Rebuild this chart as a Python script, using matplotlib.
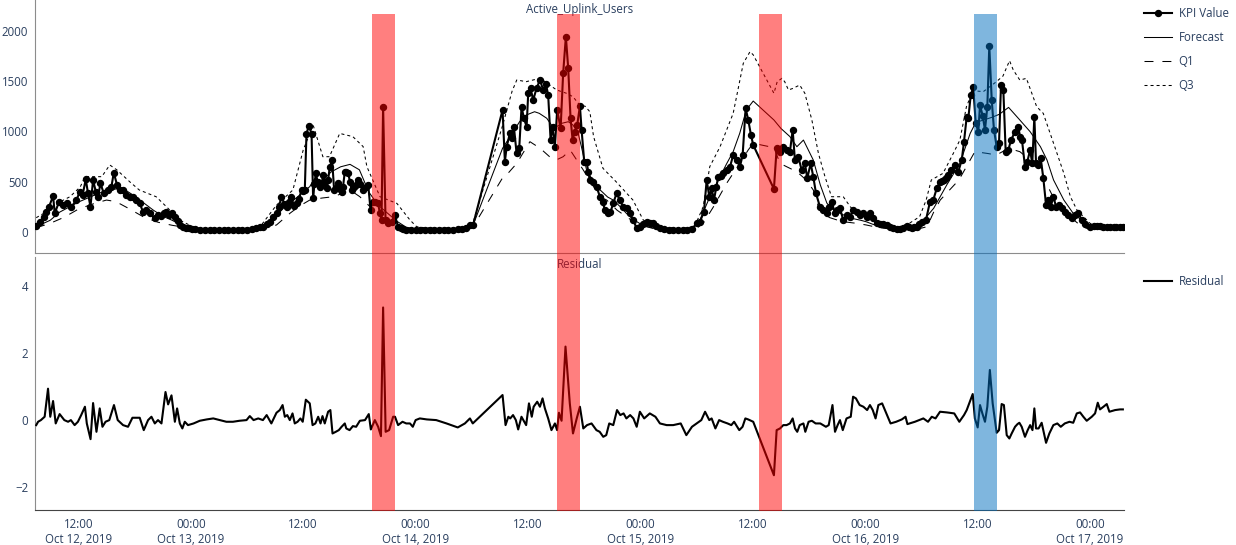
import numpy as np
import pandas as pd
import matplotlib
matplotlib.use("Agg")
import matplotlib.pyplot as plt
import matplotlib.dates as mdates
from matplotlib.patches import Rectangle
from matplotlib.transforms import blended_transform_factory

plt.rcParams["font.family"] = ["Open Sans", "DejaVu Sans"]

T0 = pd.Timestamp("2019-10-12 00:00")

# hours since 2019-10-12 00:00
kpi_t = [7.5, 7.87, 8.3, 8.59, 8.87, 9.30, 9.48, 9.94, 10.36, 10.79, 11.26, 11.8, 12.15, 12.45, 12.79, 13.03,
         13.29, 13.57, 13.86, 14.10, 14.36, 14.71, 15.17, 15.53, 15.78, 16.13, 16.42, 16.77, 17.13, 17.49, 17.85,
         18.2, 18.55, 18.9, 19.27, 19.62, 20.16, 20.5, 20.8, 21.1, 21.4, 21.7, 22.0, 22.3, 22.6, 22.9, 23.2, 23.5,
         23.8, 24.1, 24.5, 25, 25.5, 26, 26.5, 27, 27.5, 28, 28.5, 29, 29.5, 30, 30.5, 31, 31.4, 31.72, 32.1,
         32.44, 32.8, 33.15, 33.4, 33.68, 34.0, 34.22, 34.5, 34.75, 35.0, 35.29, 35.55, 35.82, 36.0, 36.17, 36.35,
         36.6, 36.89, 37.06, 37.2, 37.35, 37.55, 37.78, 37.95, 38.13, 38.3, 38.49, 38.66, 38.84, 39.09, 39.3,
         39.5, 39.73, 39.9, 40.09, 40.25, 40.44, 40.6, 40.8, 41.0, 41.16, 41.4, 41.6, 41.87, 42.1, 42.4, 42.7,
         42.94, 43.19, 43.4, 43.65, 44.0, 44.18, 44.36, 44.53, 44.79, 45.07, 45.43, 45.78, 46.13, 46.4, 46.67,
         47, 47.5, 48, 48.5, 49, 49.5, 50, 50.5, 51, 51.5, 52, 52.5, 53, 53.4, 53.79, 54.14, 57.28, 57.53, 57.71,
         58.06, 58.24, 58.49, 58.78, 59.06, 59.31, 59.56, 59.85, 60.02, 60.27, 60.55, 60.91, 61.27, 61.62, 61.91,
         62.15, 62.41, 62.62, 62.87, 63.11, 63.48, 63.75, 64.04, 64.29, 64.54, 64.76, 65.0, 65.25, 65.54, 65.72,
         66.0, 66.25, 66.43, 66.6, 66.96, 67.32, 67.67, 67.96, 68.21, 68.56, 68.8, 69.09, 69.45, 69.81, 70.16,
         70.52, 70.88, 71.23, 71.59, 71.94, 72.3, 72.66, 73.0, 73.36, 73.7, 74.08, 74.5, 75, 75.5, 76, 76.5, 77,
         77.5, 78.0, 78.35, 78.78, 79.07, 79.35, 79.6, 79.85, 80.1, 80.31, 80.6, 80.84, 81.2, 81.56, 81.91, 82.27,
         82.62, 82.91, 83.23, 83.51, 83.8, 84.04, 86.25, 86.54, 86.89, 87.25, 87.61, 87.96, 88.25, 88.49, 88.85,
         89.21, 89.56, 89.81, 90.17, 90.45, 90.74, 91.16, 91.52, 91.88, 92.15, 92.41, 92.77, 93.0, 93.3, 93.65,
         94.0, 94.37, 94.72, 95.08, 95.43, 95.79, 96.15, 96.5, 96.86, 97.22, 97.6, 97.92, 98.3, 98.64, 99.0, 99.35,
         99.7, 100.06, 100.42, 100.7, 100.96, 101.2, 101.49, 101.75, 102.02, 102.48, 102.91, 103.26, 103.63,
         103.98, 104.2, 104.41, 104.65, 104.87, 105.2, 105.58, 105.93, 106.3, 106.54, 106.83, 107.0, 107.26,
         107.53, 107.79, 108.07, 108.25, 108.54, 108.78, 109.03, 109.24, 109.5, 109.74, 110.03, 110.28, 110.49,
         110.74, 110.99, 111.27, 111.56, 111.99, 112.34, 112.52, 112.73, 113.05, 113.3, 113.59, 113.83, 114.05,
         114.23, 114.47, 114.73, 115.01, 115.3, 115.54, 115.8, 116.08, 116.37, 116.72, 117.0, 117.33, 117.68,
         118.04, 118.4, 118.75, 119.11, 119.47, 120.0, 120.4, 120.72, 121.1, 121.43, 121.8, 122.14, 122.5, 122.8,
         123.2, 123.5]
kpi_v = [60, 105, 150, 204, 254, 360, 188, 304, 270, 287, 254, 320, 403, 370, 526, 386,
         254, 519, 403, 353, 486, 386, 420, 453, 591, 469, 420, 420, 370, 353, 353,
         320, 287, 204, 221, 188, 139, 172, 160, 190, 200, 170, 190, 150, 110, 75, 55, 45,
         38, 32, 30, 28, 27, 26, 25, 25, 24, 25, 25, 26, 27, 28, 32, 38, 48, 56, 80,
         105, 150, 190, 250, 353, 280, 254, 300, 353, 260, 290, 330, 420, 410, 420, 980,
         1054, 980, 337, 480, 585, 500, 453, 470, 568, 500, 436, 520, 650, 717, 420,
         440, 485, 430, 400, 450, 600, 600, 585, 500, 420, 450, 470, 519, 480, 420, 450,
         470, 221, 300, 304, 287, 190, 122, 1246, 122, 89, 105, 172, 56, 40, 30,
         28, 27, 26, 25, 25, 25, 25, 26, 26, 27, 28, 30, 33, 40, 72, 75, 1213, 700, 843,
         982, 932, 1048, 784, 833, 1246, 1131, 1048, 1379, 1428, 1312, 1428, 1511, 1412, 1472,
         1362, 916, 1048, 849, 1213, 1032, 1577, 1941, 1627, 1131, 916, 998, 1064, 1253, 1015,
         700, 700, 601, 519, 502, 453, 353, 304, 221, 188, 200, 287, 386, 320, 254,
         238, 188, 122, 40, 56, 80, 105, 95, 89, 60, 40, 30, 28, 27, 26, 27, 28,
         32, 89, 105, 204, 519, 353, 436, 320, 450, 552, 560, 585, 620, 651, 767, 717,
         651, 767, 1230, 1114, 965, 866, 430, 833, 800, 850, 816, 800, 1015, 717, 750,
         618, 684, 535, 684, 552, 387, 254, 221, 195, 250, 304, 188, 220, 238, 122,
         172, 155, 221, 205, 172, 188, 155, 188, 139, 89, 85, 83, 70, 56, 45, 33,
         35, 40, 63, 50, 40, 48, 56, 80, 105, 122, 304, 320, 436,
         502, 510, 519, 540, 568, 620, 668, 601, 717, 899, 1147, 1130, 1362,
         1438, 1081, 998, 1262, 1153, 1015, 1246, 1847, 1312, 1015, 849, 889, 1461,
         1411, 800, 816, 915, 998, 1048, 949, 915, 651, 700, 816, 684, 1147,
         684, 668, 734, 535, 271, 320, 254, 353, 254, 271, 238, 205, 172,
         139, 172, 188, 122, 83, 56, 60, 63, 58, 56, 52, 50, 52, 52,
         50, 50]

fc_t = [7.5, 9, 10, 11, 12, 13, 14, 15, 16, 17, 18, 19, 20, 21, 22, 23, 24, 25, 27, 29, 31, 32, 33, 34, 35, 36,
        36.7, 37.2, 38, 39, 40, 41, 42, 43, 44, 45, 46, 47, 48, 50, 52, 53.5, 54.14, 57.28, 58.3, 59.1, 59.8,
        60.7, 61.2, 62, 62.5, 63.05, 63.6, 64.3, 64.8, 65.35, 65.7, 66.25, 67, 67.7, 68.5, 69.1, 70, 70.5, 71.2,
        71.9, 72.6, 73.3, 74, 76, 77.5, 78.35, 79.4, 80.5, 81.2, 81.9, 82.6, 83.3, 84.04, 86.25, 87, 87.96, 88.7,
        89.4, 90.45, 91.2, 91.9, 92.5, 93.5, 94.5, 95.5, 96.1, 96.8, 97.6, 98.5, 100, 101.5, 102.4, 103.3, 104.7,
        106.1, 107.2, 107.8, 108.5, 109.5, 110.3, 111.3, 112.5, 113.6, 114.7, 115.4, 116.1, 117.2, 118.2, 119.3,
        120.3, 121.5, 123.5]
fc_v = [56, 120, 200, 250, 300, 340, 380, 415, 430, 420, 360, 290, 220, 160, 120, 70, 40, 32, 28, 28, 35, 60,
        150, 250, 320, 400, 453, 530, 510, 600, 650, 674, 620, 400, 270, 190, 110, 50, 35, 30, 30, 35, 72, 833,
        980, 1097, 1163, 1196, 1180, 1131, 1064, 1048, 1081, 1097, 1064, 982, 849, 618, 500, 420, 350, 320, 240,
        188, 130, 89, 60, 45, 35, 30, 35, 122, 350, 552, 680, 800, 982, 1213, 1302, 1114, 1030, 949, 849, 915,
        717, 470, 290, 230, 180, 140, 120, 105, 80, 56, 38, 35, 56, 140, 238, 470, 684, 981, 1090, 1110, 1140,
        1170, 1239, 1114, 998, 849, 717, 519, 320, 188, 105, 56, 50, 50]

q1_t = [7.5, 9, 10.5, 12, 13.5, 15, 16, 17.5, 19, 20.5, 22, 23.3, 24, 26, 28, 30, 31, 32, 33.15, 34.6, 35.6,
        36.7, 38, 39.2, 40, 41, 42.05, 43.5, 44.3, 45.25, 46.6, 48, 50, 52, 53.5, 54.14, 57.28, 57.7, 58.8, 60.2,
        61.3, 62.3, 63.0, 63.75, 64.5, 65.2, 65.9, 67.0, 67.7, 68.4, 69.5, 70.5, 71.2, 71.9, 73.3, 75, 77, 78,
        78.7, 79.8, 81.2, 82.6, 83.5, 84.04, 86.25, 86.9, 87.6, 88.7, 89.7, 90.45, 91.0, 91.9, 93.0, 93.7, 95,
        96.1, 97, 98, 100, 101.5, 102.6, 103.3, 104, 105, 106, 107.0, 107.7, 109.0, 110.0, 111.3, 112.5, 113.6,
        114.7, 115.5, 116.4, 117.5, 118.6, 119.6, 121, 123.5]
q1_v = [45, 90, 150, 230, 280, 320, 305, 230, 150, 100, 70, 50, 35, 25, 22, 22, 25, 40, 73, 190, 260,
        320, 340, 353, 380, 420, 353, 221, 150, 89, 40, 28, 25, 25, 35, 56, 540, 568, 684, 899,
        833, 750, 717, 750, 816, 717, 618, 453, 353, 320, 220, 155, 110, 73, 40, 28, 25, 40,
        89, 254, 486, 684, 816, 883, 840, 684, 651, 601, 519, 420, 254, 155, 122, 105, 90,
        73, 55, 40, 28, 30, 56, 200, 320, 420, 520, 684, 800, 783, 767, 833, 800, 717,
        635, 453, 287, 188, 96, 40, 35, 35]

q3_t = [7.5, 8.9, 10, 11.1, 12.2, 12.7, 14.5, 15.35, 16.1, 17.5, 18.5, 20.3, 21.4, 22.8, 24.2, 25, 27, 29, 30.5,
        31.4, 33.15, 34.9, 36.0, 37.06, 38.1, 38.8, 39.9, 41.3, 42.4, 42.8, 44.2, 46.0, 47.4, 48.1, 49, 51, 53,
        53.8, 54.14, 57.28, 57.7, 58.3, 58.8, 59.8, 61.3, 62.3, 63.05, 64.1, 64.8, 65.5, 66.1, 66.6, 67.0, 68.0,
        69.4, 71.2, 72.3, 73.6, 75, 77, 77.8, 78.7, 79.4, 80.5, 81.9, 82.98, 83.7, 84.04, 86.25, 86.6, 87.1,
        87.4, 87.8, 88.3, 89.0, 89.55, 90.3, 91.0, 91.7, 92.4, 93.65, 94.4, 95.1, 96.5, 97.2, 99.7, 100.7,
        101.8, 102.5, 103.05, 104.3, 105.4, 106.1, 106.8, 107.5, 108.6, 110.0, 110.7, 111.4, 111.8, 112.5,
        113.2, 114.3, 115.0, 116.1, 117.2, 117.9, 118.6, 120, 121.1, 123.5]
q3_v = [145, 221, 300, 353, 450, 552, 552, 668, 620, 500, 420, 353, 254, 122, 56, 40, 38, 38, 45,
        56, 270, 420, 816, 1064, 750, 750, 981, 949, 850, 651, 353, 287, 122, 56, 45, 42, 45,
        89, 100, 1058, 1200, 1400, 1511, 1494, 1528, 1461, 1412, 1379, 1345, 1263, 1250, 1196, 949, 635,
        502, 320, 122, 56, 45, 45, 60, 254, 651, 849, 1180, 1676, 1792, 1760, 1379, 1494, 1527,
        1494, 1412, 1428, 1461, 1379, 1114, 783, 552, 353, 353, 254, 188, 155, 89, 56, 89,
        155, 320, 519, 585, 783, 915, 1246, 1405, 1395, 1494, 1550, 1702, 1610, 1510,
        1527, 1246, 1180, 883, 585, 353, 221, 89, 56, 55]

res_t = [7.5, 7.7, 8.0, 8.4, 8.76, 9.0, 9.3, 9.58, 10.0, 10.5, 10.9, 11.2, 11.6, 11.95, 12.3, 12.7, 12.9, 13.3,
         13.57, 13.93, 14.28, 14.57, 14.9, 15.3, 15.8, 16.2, 16.77, 17.3, 17.77, 18.55, 18.98, 19.44, 19.8, 20.16,
         20.5, 20.87, 21.3, 21.58, 21.94, 22.3, 22.54, 22.83, 23.1, 23.36, 23.7, 24.3, 24.96, 25.7, 26.4, 27.1,
         27.8, 28.5, 29.2, 29.95, 30.3, 30.7, 31.2, 31.7, 32.1, 32.6, 33.15, 33.5, 33.8, 34.04, 34.3, 34.57,
         34.86, 35.1, 35.4, 35.7, 35.95, 36.28, 36.7, 37.0, 37.3, 37.6, 37.85, 38.06, 38.3, 38.66, 38.9, 39.13,
         39.48, 39.8, 40.1, 40.44, 40.6, 40.95, 41.3, 41.65, 42.05, 42.6, 43.0, 43.22, 43.65, 44.0, 44.3, 44.53,
         44.8, 45.17, 45.6, 45.8, 46.13, 46.6, 47.0, 47.4, 47.7, 48.0, 48.45, 49.2, 50.2, 51.3, 52.5, 53.26,
         53.8, 54.1, 57.28, 57.6, 57.9, 58.1, 58.4, 58.7, 58.95, 59.3, 59.8, 60.1, 60.4, 60.6, 60.98, 61.27,
         61.55, 61.8, 62.15, 62.5, 62.87, 63.1, 63.3, 63.58, 64.0, 64.46, 64.8, 65.2, 65.54, 65.9, 66.3, 66.78,
         67.3, 67.65, 68.03, 68.35, 68.67, 69.1, 69.5, 69.85, 70.2, 70.5, 70.9, 71.25, 71.6, 71.94, 72.4, 73.0,
         73.6, 74.08, 74.8, 75.5, 76.3, 76.9, 77.5, 78.0, 78.5, 78.9, 79.35, 79.6, 80.0, 80.4, 80.8, 81.3, 81.7,
         82.0, 82.55, 82.9, 83.2, 83.5, 84.04, 86.25, 86.54, 86.9, 87.25, 87.6, 87.96, 88.25, 88.5, 88.74, 89.0,
         89.4, 89.6, 89.95, 90.3, 90.7, 91.2, 91.5, 91.8, 92.1, 92.5, 92.77, 93.05, 93.3, 93.6, 94.0, 94.45,
         94.7, 95.0, 95.4, 95.8, 96.2, 96.5, 96.8, 97.1, 97.4, 97.8, 98.25, 98.7, 99.3, 99.9, 100.3, 100.5,
         101.3, 102.2, 102.7, 103.1, 103.5, 103.98, 104.7, 105.5, 106.04, 106.54, 106.83, 107.47, 107.7, 108.0,
         108.25, 108.5, 108.78, 109.03, 109.3, 109.6, 110.03, 110.28, 110.56, 110.8, 111.1, 111.38, 111.63,
         111.99, 112.25, 112.45, 112.7, 113.05, 113.34, 113.6, 113.85, 114.05, 114.23, 114.5, 114.83, 115.3,
         115.65, 116.08, 116.5, 116.87, 117.3, 117.8, 118.2, 118.58, 118.93, 119.28, 119.64, 120.18, 120.53,
         120.82, 121.06, 121.43, 121.78, 122.06, 122.67, 123.2, 123.5]
res_v = [-0.15, -0.05, 0, 0.1, 0.94, 0.1, 0.57, -0.1, 0.18, 0, -0.05, 0, -0.15, -0.05, 0.15, 0.4, -0.1, -0.57,
         0.51, -0.35, 0.35, -0.2, -0.05, 0, 0.45, 0, -0.15, -0.2, 0.07, 0.07, -0.3, 0, 0.1, -0.1,
         0, -0.1, 0.84, 0.47, 0.74, -0.05, 0.35, -0.1, -0.25, -0.05, -0.15, -0.1, -0.02, 0.02, 0.05, 0,
         -0.05, -0.05, -0.02, 0, 0.12, 0, 0.05, 0, 0.15, -0.1, 0.22, 0.3, 0.45, 0.1, 0.15, 0,
         0.2, -0.1, -0.05, 0.05, -0.05, 0.61, 0.5, -0.15, -0.1, 0.1, -0.1, 0.12, -0.1, 0.25, 0.3, -0.4,
         -0.35, -0.3, -0.2, -0.1, -0.25, -0.3, -0.18, -0.2, -0.02, 0, 0.18, -0.28, 0, -0.2, -0.48, 3.37,
         -0.35, -0.3, 0.1, 0.1, -0.15, -0.05, -0.1, -0.1, -0.2, 0, 0.05, 0.02, 0, -0.1, -0.22, -0.1,
         0.05, -0.1, 0.75, -0.15, 0.1, 0.05, 0.15, 0, -0.28, 0.1, -0.15, 0.5, 0.1, 0.4, 0.55, 0.4,
         0.65, 0.35, 0.05, -0.3, -0.1, -0.3, 0.22, -0.02, 2.2, 0.5, -0.4, 0.05, 0.4, -0.25, -0.15, -0.1,
         -0.3, -0.35, -0.5, -0.45, -0.1, -0.15, 0.3, 0.15, 0.2, 0.05, 0.15, 0.05, -0.2, 0.25, 0.05, 0.2,
         0.1, -0.1, -0.15, -0.15, -0.1, -0.45, -0.2, -0.1, 0, 0.25, 0, 0.05, -0.25, 0, -0.05, -0.1, -0.15,
         -0.05, -0.3, -0.2, 0.05, 0.02, -0.05, -1.65, -0.3, -0.25, -0.15, -0.15, -0.1, 0.05, -0.25, -0.35, -0.15,
         -0.1, -0.35, -0.05, -0.02, -0.1, -0.1, -0.15, -0.2, -0.15, 0.45, -0.35, -0.15, 0, -0.3, 0.05, 0.1,
         0.7, 0.65, 0.45, 0.4, 0.3, 0.45, 0.3, 0.05, 0.45, 0.5, 0.2, -0.1, -0.05, 0.02, 0.1, -0.12,
         -0.05, 0.05, -0.05, 0.1, 0.05, 0.25, 0.23, 0.2, -0.05, 0.15, 0.3, 0.78, 0.05, -0.22,
         0.45, 0.2, -0.05, 0.4, 1.5, 0.5, -0.38, -0.3, 0.48, 0.45, -0.45, -0.55, -0.4,
         -0.2, -0.12, -0.08, -0.2, -0.5, -0.3, -0.15, -0.3, 0.35, -0.25, -0.25, -0.08, -0.68,
         -0.4, -0.15, -0.1, -0.2, -0.1, -0.05, -0.08, 0.2, 0.23, 0.1, -0.02, 0.1, 0.2,
         0.52, 0.32, 0.4, 0.48, 0.25, 0.3, 0.32, 0.32]

# anomaly windows (start, end hours) and colour
anom_windows = [(43.38, 45.80, "red"), (63.10, 65.55, "red"), (84.69, 87.08, "red"), (107.60, 110.03, "blue")]

tick_hours = [12, 24, 36, 48, 60, 72, 84, 96, 108, 120]
tick_labels = ["12:00\nOct 12, 2019", "00:00\nOct 13, 2019", "12:00", "00:00\nOct 14, 2019", "12:00",
               "00:00\nOct 15, 2019", "12:00", "00:00\nOct 16, 2019", "12:00", "00:00\nOct 17, 2019"]

TXT = "#2a3f5f"


def to_dt(hours):
    return T0 + pd.to_timedelta(np.asarray(hours, dtype=float), unit="h")


W, H = 1236, 545
fig = plt.figure(figsize=(W / 100, H / 100), dpi=100)
ax1 = fig.add_axes([35 / W, 1 - 253 / H, 1089 / W, 253 / H])
ax2 = fig.add_axes([35 / W, 1 - 510 / H, 1089 / W, 253 / H], sharex=ax1)

l_fc, = ax1.plot(to_dt(fc_t), fc_v, color="black", lw=0.75, label="Forecast", zorder=2)
l_q1, = ax1.plot(to_dt(q1_t), q1_v, color="black", lw=0.75, ls=(0, (8.6, 8.6)), label="Q1", zorder=2)
l_q3, = ax1.plot(to_dt(q3_t), q3_v, color="black", lw=0.75, ls=(0, (2.9, 2.9)), label="Q3", zorder=2)
l_kpi, = ax1.plot(to_dt(kpi_t), kpi_v, color="black", lw=1.5, marker="o", ms=4.3, label="KPI Value", zorder=3)

ax2.plot(to_dt(res_t), res_v, color="black", lw=1.5, label="Residual", zorder=3)

ax1.set_ylim(-205, 2304)
ax1.set_yticks([0, 500, 1000, 1500, 2000])
ax2.set_ylim(-2.69, 4.88)
ax2.set_yticks([-2, 0, 2, 4])
ax2.set_yticklabels(["\u22122", "0", "2", "4"])
ax1.set_xlim(to_dt([7.37])[0], to_dt([123.62])[0])
ax2.set_xticks(list(to_dt(tick_hours)))
ax2.set_xticklabels(tick_labels)
ax1.tick_params(axis="x", bottom=False, labelbottom=False)

for ax in (ax1, ax2):
    for side in ("top", "right"):
        ax.spines[side].set_visible(False)
    ax.spines["left"].set_color("#8c8c8c")
    ax.spines["bottom"].set_color("#8c8c8c")
    ax.tick_params(axis="both", length=0, labelsize=8.3, labelcolor=TXT, pad=5)
ax2.spines["bottom"].set_color("#444444")
ax2.tick_params(axis="x", pad=6)

fig.text(580 / W, 1 - 9 / H, "Active_Uplink_Users", fontsize=8.3, color=TXT, ha="center", va="center")
fig.text(580 / W, 1 - 264 / H, "Residual", fontsize=8.3, color=TXT, ha="center", va="center")

# anomaly windows spanning both panels
trans = blended_transform_factory(ax2.transData, fig.transFigure)
colors = {"red": (1.0, 0.0, 0.0, 0.5), "blue": (0.0, 0.43, 0.75, 0.5)}
for start, end, c in anom_windows:
    x0 = mdates.date2num(to_dt([start])[0])
    x1 = mdates.date2num(to_dt([end])[0])
    fig.patches.append(Rectangle((x0, 1 - 511 / H), x1 - x0, (511 - 14) / H, transform=trans,
                                 facecolor=colors[c], edgecolor="none", zorder=10))

leg1 = ax1.legend(handles=[l_kpi, l_fc, l_q1, l_q3], loc="upper left", bbox_to_anchor=(1144 / W, 1 - 7 / H),
                  bbox_transform=fig.transFigure, frameon=False, fontsize=8.3, handlelength=2.4,
                  handletextpad=0.6, labelspacing=0.95, borderaxespad=0, borderpad=0)
for t in leg1.get_texts():
    t.set_color(TXT)
leg2 = ax2.legend(loc="upper left", bbox_to_anchor=(1144 / W, 1 - 275 / H), bbox_transform=fig.transFigure,
                  frameon=False, fontsize=8.3, handlelength=2.4, handletextpad=0.6, borderaxespad=0, borderpad=0)
for t in leg2.get_texts():
    t.set_color(TXT)

fig.savefig("out.png", dpi=100)
